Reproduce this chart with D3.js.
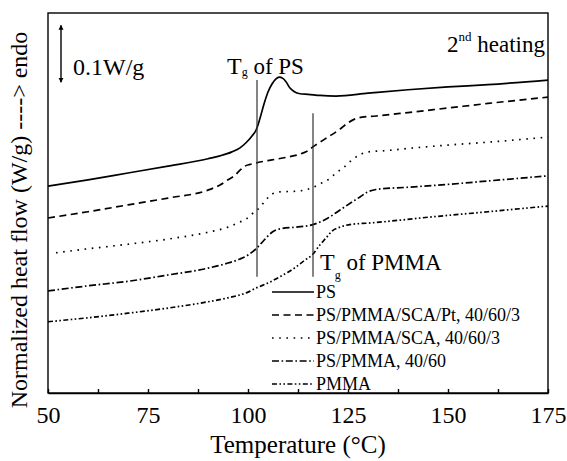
<!DOCTYPE html>
<html>
<head>
<meta charset="utf-8">
<script src="https://cdn.jsdelivr.net/npm/d3@7"></script>
<style>
  html, body { margin: 0; padding: 0; background: #fff; }
</style>
</head>
<body>
<svg id="chart" width="567" height="461"></svg>
<script>
// ---- Data (temperature in °C, normalized heat flow in W/g, offset curves) ----
const seriesNames = [
  "PS",
  "PS/PMMA/SCA/Pt, 40/60/3",
  "PS/PMMA/SCA, 40/60/3",
  "PS/PMMA, 40/60",
  "PMMA"
];

const psT = [50, 60, 70, 80, 90, 93, 96, 98, 99.5, 101, 102, 103, 104, 105, 106, 107, 107.8, 108.7, 109.5, 110.5, 111.5, 113, 115, 118, 122, 130, 140, 150, 160, 175];
const psY = [0.363, 0.374, 0.386, 0.398, 0.411, 0.416, 0.423, 0.430, 0.439, 0.451, 0.461, 0.482, 0.507, 0.528, 0.542, 0.551, 0.554, 0.552, 0.546, 0.535, 0.529, 0.525, 0.524, 0.522, 0.521, 0.526, 0.532, 0.537, 0.541, 0.549];

const ptT = [50, 60, 70, 80, 90, 93, 95, 96.75, 98, 99.25, 100.5, 102.25, 106, 110, 113.75, 115, 116.25, 118, 120, 123, 125, 126.5, 128.5, 132, 140, 150, 160, 175];
const ptY = [0.307, 0.318, 0.330, 0.342, 0.356, 0.365, 0.374, 0.382, 0.391, 0.398, 0.401, 0.404, 0.409, 0.414, 0.421, 0.425, 0.432, 0.440, 0.449, 0.463, 0.474, 0.480, 0.484, 0.486, 0.492, 0.500, 0.508, 0.519];

const scaT = [52, 60, 70, 80, 90, 95, 98, 99.5, 101, 103, 104.5, 106, 108, 112, 116, 118, 120, 122, 124, 126, 128, 130, 134, 140, 150, 160, 175];
const scaY = [0.246, 0.253, 0.261, 0.270, 0.282, 0.291, 0.300, 0.305, 0.314, 0.326, 0.339, 0.349, 0.353, 0.354, 0.360, 0.367, 0.374, 0.386, 0.396, 0.409, 0.418, 0.423, 0.425, 0.429, 0.435, 0.440, 0.449];

const blendT = [50, 60, 70, 80, 90, 95, 98, 100, 102, 104, 106, 108, 112, 116, 118, 120, 123, 126, 128, 130, 132, 140, 150, 160, 175];
const blendY = [0.179, 0.188, 0.196, 0.207, 0.219, 0.228, 0.235, 0.242, 0.253, 0.268, 0.282, 0.288, 0.291, 0.295, 0.300, 0.307, 0.321, 0.335, 0.344, 0.353, 0.357, 0.361, 0.366, 0.372, 0.381];

const pmmaT = [50, 60, 70, 80, 90, 95, 100, 102, 105, 108, 110, 112, 114, 116, 118, 119.5, 121, 123, 126, 130, 146, 160, 175];
const pmmaY = [0.125, 0.132, 0.140, 0.149, 0.160, 0.167, 0.177, 0.184, 0.193, 0.204, 0.212, 0.221, 0.232, 0.242, 0.260, 0.272, 0.284, 0.291, 0.296, 0.298, 0.309, 0.318, 0.328];

// Tg marker lines: [temperature, yBottom, yTop]
const tgPS = [102.25, 0.204, 0.549];
const tgPMMA = [116.25, 0.204, 0.491];
// scale bar (0.1 W/g)
const scaleBar = [53.25, 0.545, 0.645];

const xTicks = [50, 75, 100, 125, 150, 175];
const xMinorTicks = [62.5, 87.5, 112.5, 137.5, 162.5];

// ---- Layout ----
const FONT = "Liberation Serif";
const svg = d3.select("#chart");
const m = { left: 48, right: 548, top: 13, bottom: 393 };
const x = d3.scaleLinear().domain([50, 175]).range([m.left, m.right]);
const y = d3.scaleLinear().domain([0, 380 / 570]).range([m.bottom, m.top]);

const styles = [
  { dash: null },
  { dash: "7,4.5" },
  { dash: "1.6,5.6" },
  { dash: "7,2.6,1.6,2.6" },
  { dash: "5,2.4,1.6,2.4,1.6,2.4" }
];

const series = [
  psT.map((t, i) => [t, psY[i]]),
  ptT.map((t, i) => [t, ptY[i]]),
  scaT.map((t, i) => [t, scaY[i]]),
  blendT.map((t, i) => [t, blendY[i]]),
  pmmaT.map((t, i) => [t, pmmaY[i]])
];

const line = d3.line().x(d => x(d[0])).y(d => y(d[1])).curve(d3.curveMonotoneX);

series.forEach((s, i) => {
  svg.append("path")
    .attr("d", line(s))
    .attr("fill", "none")
    .attr("stroke", "#000")
    .attr("stroke-width", 1.7)
    .attr("stroke-dasharray", styles[i].dash);
});

// Tg lines
[tgPS, tgPMMA].forEach(t => {
  svg.append("line")
    .attr("x1", x(t[0])).attr("x2", x(t[0]))
    .attr("y1", y(t[1])).attr("y2", y(t[2]))
    .attr("stroke", "#333").attr("stroke-width", 1.2);
});

// Frame
svg.append("rect")
  .attr("x", m.left).attr("y", m.top)
  .attr("width", m.right - m.left).attr("height", m.bottom - m.top)
  .attr("fill", "none").attr("stroke", "#000").attr("stroke-width", 1.4);

// X axis
const xAxis = d3.axisBottom(x).tickValues(xTicks).tickSizeInner(-4).tickSizeOuter(0).tickPadding(13);
const gx = svg.append("g").attr("transform", `translate(0,${m.bottom})`).call(xAxis)
  .attr("font-family", FONT).attr("font-size", 24);
gx.select(".domain").attr("stroke", "#000").attr("stroke-width", 1.4);
gx.selectAll(".tick line").attr("stroke", "#000").attr("stroke-width", 1.4);
gx.selectAll(".tick text").attr("font-size", 24).attr("font-family", FONT).attr("fill", "#000");

const xAxisMinor = d3.axisBottom(x).tickValues(xMinorTicks).tickSizeInner(-4).tickSizeOuter(0).tickFormat("");
const gxm = svg.append("g").attr("transform", `translate(0,${m.bottom})`).call(xAxisMinor);
gxm.select(".domain").remove();
gxm.selectAll(".tick line").attr("stroke", "#000").attr("stroke-width", 1.4);

// helper for text
function txt(xp, yp, size) {
  return svg.append("text").attr("x", xp).attr("y", yp)
    .attr("font-family", FONT).attr("font-size", size).attr("fill", "#000");
}

// Axis titles
txt((m.left + m.right) / 2, 453, 25).attr("text-anchor", "middle").text("Temperature (°C)");

svg.append("text")
  .attr("transform", "translate(27,220) rotate(-90)")
  .attr("font-family", FONT).attr("fill", "#000")
  .attr("text-anchor", "middle").attr("font-size", 24)
  .text("Normalized heat flow (W/g) ----> endo");

// Scale bar with arrows
const defs = svg.append("defs");
defs.append("marker").attr("id", "ah").attr("viewBox", "0 0 10 10")
  .attr("refX", 9).attr("refY", 5).attr("markerWidth", 5).attr("markerHeight", 9)
  .attr("orient", "auto-start-reverse").attr("markerUnits", "userSpaceOnUse")
  .append("path").attr("d", "M0,0 L10,5 L0,10 Z").attr("fill", "#000");
svg.append("line")
  .attr("x1", x(scaleBar[0])).attr("x2", x(scaleBar[0]))
  .attr("y1", y(scaleBar[1])).attr("y2", y(scaleBar[2]))
  .attr("stroke", "#000").attr("stroke-width", 1.4)
  .attr("marker-start", "url(#ah)").attr("marker-end", "url(#ah)");
txt(73, 75, 24).text("0.1W/g");

// Tg labels
const tPS = txt(227, 74, 24);
tPS.append("tspan").text("T");
tPS.append("tspan").attr("font-size", 12).attr("dy", 2).text("g");
tPS.append("tspan").attr("font-size", 23).attr("dy", -2).text(" of PS");

const tPM = txt(320, 270, 24);
tPM.append("tspan").text("T");
tPM.append("tspan").attr("font-size", 12).attr("dy", 9).text("g");
tPM.append("tspan").attr("font-size", 23).attr("dy", -9).text(" of PMMA");

// 2nd heating
const h = txt(545, 52, 23).attr("text-anchor", "end");
h.append("tspan").text("2");
h.append("tspan").attr("font-size", 13).attr("dy", -11).text("nd");
h.append("tspan").attr("dy", 11).text(" heating");

// Legend
const legX1 = 272, legX2 = 314, legY0 = 292, legDy = 23;
seriesNames.forEach((name, i) => {
  const yy = legY0 + i * legDy;
  svg.append("line")
    .attr("x1", legX1).attr("x2", legX2).attr("y1", yy).attr("y2", yy)
    .attr("stroke", "#000").attr("stroke-width", 1.7)
    .attr("stroke-dasharray", styles[i].dash);
  txt(legX2 + 2, yy + 6, 18).text(name);
});
</script>
</body>
</html>
